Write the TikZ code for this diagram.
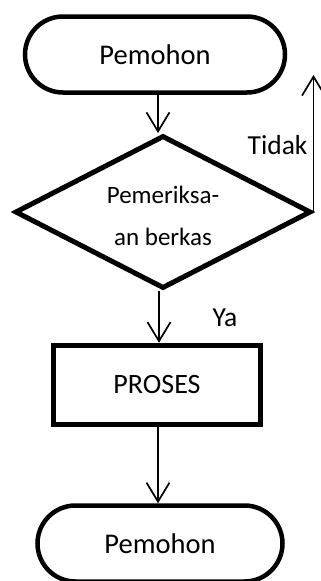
\documentclass[tikz,border=0pt]{standalone}
\usepackage{fontspec}
\setmainfont{Carlito}
\usetikzlibrary{shapes.geometric,shapes.misc,arrows.meta}

\begin{document}
\begin{tikzpicture}[x=1pt, y=-1pt,
    terminal/.style={rounded rectangle, draw, line width=4.5pt, inner sep=0pt, font=\fontsize{28.5}{32}\selectfont},
    decision/.style={diamond, draw, line width=5pt, inner sep=0pt, font=\fontsize{25}{37}\selectfont},
    process/.style={rectangle, draw, line width=5.5pt, inner sep=0pt, font=\fontsize{28}{32}\selectfont},
    flow/.style={line width=1.7pt, -{Straight Barb[length=19pt, width=23pt, line width=1.7pt]}},
    label/.style={font=\fontsize{27.5}{32}\selectfont}]
    \useasboundingbox (0,0) rectangle (321,581);

    % Start
    \node[terminal, minimum width=260pt, minimum height=76pt] (start) at (155,54.5) {Pemohon};

    % Check of the files
    \node[decision, minimum width=296pt, minimum height=153pt] (check) at (163,212) {\makebox[0pt]{\smash{\raisebox{-11pt}{\begin{tabular}{@{}c@{}}Pemeriksa-\\[5pt]an berkas\end{tabular}}}}};

    % Process
    \node[process, minimum width=207pt, minimum height=79pt] (proc) at (157,385) {PROSES};

    % End
    \node[terminal, minimum width=245pt, minimum height=76pt] (stop) at (160,543.5) {Pemohon};

    % Connectors
    \coordinate (back) at (314,75);
    \draw[flow] ([xshift=3pt]start.south) -- ([xshift=3pt]start.south |- check.north);
    \draw[flow] (check.east) -- (check.east |- back);
    \node[label, anchor=east] (no) at (311,145) {Tidak};
    \draw[flow] ([xshift=-4pt]check.south) -- ([xshift=-4pt]check.south |- proc.north);
    \node[label] (yes) at (225,318) {Ya};
    \draw[flow] ([xshift=1pt]proc.south) -- ([xshift=1pt]proc.south |- stop.north);
\end{tikzpicture}
\end{document}
